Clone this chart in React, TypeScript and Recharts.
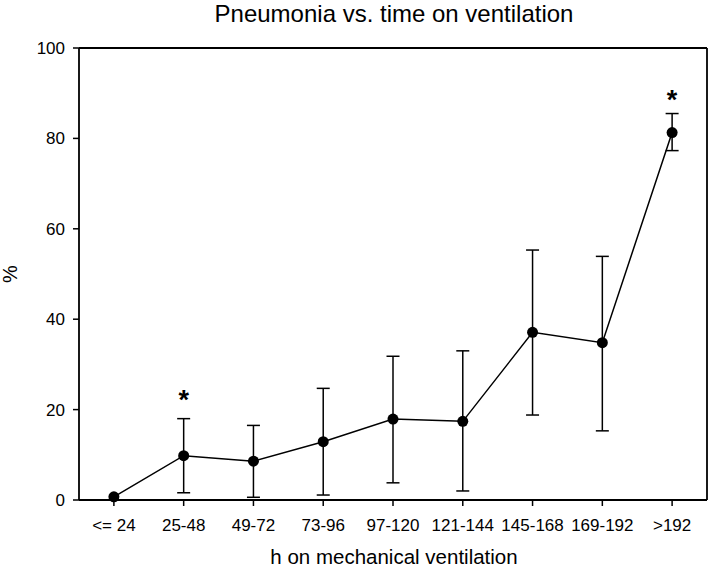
import {
  ComposedChart,
  ErrorBar,
  Line,
  ReferenceLine,
  Scatter,
  XAxis,
  YAxis,
} from 'recharts'

const categories = ['<= 24', '25-48', '49-72', '73-96', '97-120', '121-144', '145-168', '169-192', '>192']
const pneumoniaPct = [0.7, 9.8, 8.6, 12.9, 17.9, 17.4, 37.1, 34.8, 81.3]
const ciLow: (number | null)[] = [null, 1.6, 0.6, 1.1, 3.8, 2.0, 18.8, 15.3, 77.3]
const ciHigh: (number | null)[] = [null, 18.0, 16.5, 24.7, 31.8, 33.0, 55.3, 53.9, 85.5]
// significance marks: category index and where the asterisk sits (%)
const sigIdx = [1, 8]
const sigLevel = [23.6, 90.0]
const yTicks = [0, 20, 40, 60, 80, 100]

const FONT = '"Liberation Sans", Arial, sans-serif'

const data = categories.map((c, i) => {
  const v = pneumoniaPct[i]
  const lo = ciLow[i]
  const hi = ciHigh[i]
  return {
    idx: i,
    label: c,
    pct: v,
    err: lo == null || hi == null ? null : [v - lo, hi - v],
  }
})

const stars = sigIdx.map((idx, i) => ({ idx, star: sigLevel[i] }))

function Asterisk(props: any) {
  const { cx, cy } = props
  if (cx == null || cy == null) return null
  const fs = 27
  return (
    <text
      x={cx}
      y={cy + fs * 0.57}
      textAnchor="middle"
      fontSize={fs}
      fontWeight="bold"
      fontFamily={FONT}
      fill="#000"
    >
      *
    </text>
  )
}

export default function App() {
  const tick = { fontSize: 17, fill: '#000', fontFamily: FONT }
  return (
    <div style={{ position: 'absolute', left: 0, top: 0, width: 709, height: 570, background: '#fff' }}>
      <ComposedChart
        width={709}
        height={570}
        data={data}
        margin={{ top: 48, right: 2, bottom: 0, left: 0 }}
      >
        <XAxis
          dataKey="idx"
          type="number"
          domain={[-0.5, 8.5]}
          ticks={categories.map((_, i) => i)}
          tickFormatter={(i) => categories[i] ?? ''}
          height={70}
          tick={tick}
          tickSize={6}
          tickMargin={13}
          interval={0}
          axisLine={{ stroke: '#000', strokeWidth: 1.8 }}
          tickLine={{ stroke: '#000', strokeWidth: 1.5 }}
        />
        <YAxis
          type="number"
          domain={[0, 100]}
          ticks={yTicks}
          width={79}
          tick={tick}
          tickSize={6}
          tickMargin={8}
          axisLine={{ stroke: '#000', strokeWidth: 1.8 }}
          tickLine={{ stroke: '#000', strokeWidth: 1.5 }}
        />
        <ReferenceLine y={100} stroke="#000" strokeWidth={1.8} />
        <ReferenceLine x={8.5} stroke="#000" strokeWidth={1.8} />
        <Line
          dataKey="pct"
          stroke="#000"
          strokeWidth={1.5}
          dot={{ r: 5.5, fill: '#000', stroke: '#000', strokeWidth: 0 }}
          activeDot={false}
          isAnimationActive={false}
        >
          <ErrorBar dataKey="err" direction="y" width={6.5} stroke="#000" strokeWidth={1.5} />
        </Line>
        <Scatter data={stars} dataKey="star" shape={<Asterisk />} isAnimationActive={false} />
      </ComposedChart>
      <svg
        width={709}
        height={570}
        style={{ position: 'absolute', left: 0, top: 0, pointerEvents: 'none' }}
      >
        <text x={394} y={22} textAnchor="middle" fontSize={24} fontFamily={FONT} fill="#000">
          Pneumonia vs. time on ventilation
        </text>
        <text x={394} y={564} textAnchor="middle" fontSize={20.5} fontFamily={FONT} fill="#000">
          h on mechanical ventilation
        </text>
        <text
          x={17}
          y={274}
          textAnchor="middle"
          fontSize={20}
          fontFamily={FONT}
          fill="#000"
          transform="rotate(-90, 17, 274)"
        >
          %
        </text>
      </svg>
    </div>
  )
}
